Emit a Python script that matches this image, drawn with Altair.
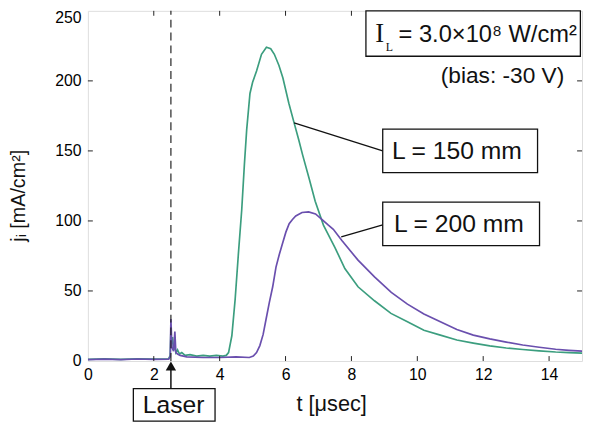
import altair as alt
import pandas as pd

# ---- data ----
t_150 = [0.0, 0.5, 1.0, 1.5, 2.0, 2.45, 2.5, 2.52, 2.54, 2.57, 2.6, 2.63, 2.67, 2.72, 2.78, 2.85,
         2.95, 3.1, 3.3, 3.5, 3.7, 3.9, 4.1, 4.2, 4.27, 4.37, 4.47, 4.57, 4.67, 4.75, 4.82, 4.92,
         5.0, 5.12, 5.27, 5.42, 5.55, 5.66, 5.8, 5.92, 6.1, 6.26, 6.4, 6.52, 6.72, 6.9, 7.15, 7.5,
         7.8, 8.2, 8.7, 9.2, 9.7, 10.2, 10.7, 11.2, 11.7, 12.2, 12.7, 13.2, 13.7, 14.2, 14.6, 15.0]
j_150 = [1.2, 1.5, 1.2, 1.6, 1.3, 1.5, 4, 22, 12, 17, 8, 11, 6, 8, 5, 6,
         4, 4.5, 3.5, 4, 3.5, 4, 3.5, 4, 6, 18, 44, 77, 108, 140, 165, 191,
         199, 207, 219, 224, 223, 219, 211, 202, 184, 170, 158, 147, 130, 114, 97, 81,
         66, 53, 43, 34, 28, 22, 18.5, 15, 12.8, 10.8, 9.3, 8.2, 7.2, 6.4, 6.0, 5.6]

t_200 = [0.0, 0.5, 1.0, 1.5, 2.0, 2.45, 2.5, 2.52, 2.55, 2.6, 2.64, 2.67, 2.72, 2.8, 3.0, 3.5,
         4.0, 4.5, 4.9, 5.02, 5.12, 5.22, 5.32, 5.41, 5.51, 5.61, 5.71, 5.81, 5.91, 6.01, 6.11,
         6.21, 6.31, 6.5, 6.7, 6.91, 7.11, 7.3, 7.45, 7.71, 8.2, 8.7, 9.21, 9.7, 10.2, 10.7, 11.2,
         11.7, 12.2, 12.7, 13.2, 13.7, 14.2, 14.6, 15.0]
j_200 = [1.0, 1.3, 1.0, 1.4, 1.2, 1.3, 3, 30, 10, 7, 21, 6, 5, 4, 3, 2.5,
         2.5, 3, 2.5, 3.5, 6, 11, 19, 30, 42, 53, 67, 76, 84, 92, 98,
         101, 103.5, 106, 106.5, 105, 101, 97, 94, 86, 72, 60, 49, 40.6, 33.6, 28, 22.5,
         18.5, 15.8, 13.5, 11.4, 9.8, 8.4, 7.6, 7.0]

series_names = ["L = 150 mm", "L = 200 mm"]
series_colors = ["#3c9e7f", "#6a4fae"]

x_ticks = [0, 2, 4, 6, 8, 10, 12, 14]
y_ticks = [0, 50, 100, 150, 200, 250]
laser_t = 2.52

FONT = "Liberation Sans"

df = pd.concat([
    pd.DataFrame({"t": t_150, "j": j_150, "s": series_names[0]}),
    pd.DataFrame({"t": t_200, "j": j_200, "s": series_names[1]}),
], ignore_index=True)

xs = alt.Scale(domain=[0, 15], nice=False, zero=False)
ys = alt.Scale(domain=[0, 250], nice=False, zero=False)

x_axis = alt.Axis(values=x_ticks, ticks=False, domain=False, grid=False,
                  labelFontSize=16, labelFont=FONT, labelColor="black",
                  labelPadding=6, labelFlush=False, title=None)
y_axis = alt.Axis(values=y_ticks, ticks=False, domain=False, grid=False,
                  labelFontSize=16, labelFont=FONT, labelColor="black",
                  labelPadding=7, labelFlush=False, title=None,
                  labelOffset=alt.ConditionalAxisNumber(
                      condition={"test": "datum.value == 250", "value": 7}, value=0))


def X(field="t"):
    return alt.X(f"{field}:Q", scale=xs, axis=x_axis)


def Y(field="j"):
    return alt.Y(f"{field}:Q", scale=ys, axis=y_axis)


lines = alt.Chart(df).mark_line(strokeWidth=1.7, clip=True).encode(
    x=X(), y=Y(),
    color=alt.Color("s:N", scale=alt.Scale(domain=series_names, range=series_colors), legend=None),
    order="t:Q",
)

# inward ticks
tick_df = pd.DataFrame(
    [{"t": v, "t2": v, "j": 0, "j2": 3.5} for v in x_ticks[1:]] +
    [{"t": v, "t2": v, "j": 250, "j2": 246.5} for v in x_ticks[1:]] +
    [{"t": 0, "t2": 0.15, "j": v, "j2": v} for v in y_ticks[1:-1]] +
    [{"t": 15, "t2": 14.85, "j": v, "j2": v} for v in y_ticks[1:-1]]
)
ticks = alt.Chart(tick_df).mark_rule(color="#222", strokeWidth=1).encode(
    x=X(), x2="t2:Q", y=Y(), y2="j2:Q")

# dashed laser line
dash = alt.Chart(pd.DataFrame({"t": [laser_t], "j": [0], "j2": [250]})).mark_rule(
    color="#222", strokeDash=[8, 5], strokeWidth=1.2).encode(x=X(), y=Y(), y2="j2:Q")

# connector lines
conn_df = pd.DataFrame({"t": [6.26, 7.69], "j": [170, 88.7], "t2": [8.95, 8.95], "j2": [150, 97.2]})
conn = alt.Chart(conn_df).mark_rule(color="#111", strokeWidth=1.3).encode(
    x=X(), y=Y(), x2="t2:Q", y2="j2:Q")

# boxes
box_df = pd.DataFrame({
    "t": [8.44, 8.95, 8.95, 1.38],
    "t2": [14.95, 13.65, 13.71, 3.86],
    "j": [250, 165.5, 113.4, -19.7],
    "j2": [217.6, 134.5, 82.4, -43.0],
})
boxes = alt.Chart(box_df).mark_rect(fill="white", stroke="#111", strokeWidth=1.3, clip=False).encode(
    x=X(), x2="t2:Q", y=Y(), y2="j2:Q")

# arrow
arrow_line = alt.Chart(pd.DataFrame({"t": [laser_t], "j": [-19.7], "j2": [-5]})).mark_rule(
    color="#111", strokeWidth=1.5, clip=False).encode(x=X(), y=Y(), y2="j2:Q")
arrow_head = alt.Chart(pd.DataFrame({"t": [laser_t], "j": [-3.6]})).mark_point(
    shape="triangle-up", filled=True, color="#111", size=110, opacity=1, clip=False).encode(
    x=X(), y=Y())


def text_layer(rows, **kw):
    return alt.Chart(pd.DataFrame(rows)).mark_text(clip=False, color="#111", **kw).encode(
        x=X(), y=Y(), text="txt:N")


txt_150 = text_layer([{"t": 11.2, "j": 150, "txt": "L = 150 mm"}], font=FONT, fontSize=25,
                     align="center", baseline="middle")
txt_200 = text_layer([{"t": 11.26, "j": 97.9, "txt": "L = 200 mm"}], font=FONT, fontSize=25,
                     align="center", baseline="middle")
txt_laser = text_layer([{"t": 2.6, "j": -31.3, "txt": "Laser"}], font=FONT, fontSize=25,
                       align="center", baseline="middle")
txt_I = text_layer([{"t": 8.86, "j": 227.5, "txt": "I"}], font="Liberation Serif", fontSize=27,
                   align="center", baseline="alphabetic")
txt_Lsub = text_layer([{"t": 9.15, "j": 221, "txt": "L"}], font="Liberation Serif", fontSize=12,
                      align="center", baseline="alphabetic")
txt_IL = text_layer([{"t": 9.43, "j": 227.5, "txt": "= 3.0×10⁸ W/cm²"}], font=FONT, fontSize=24,
                    align="left", baseline="alphabetic")
txt_bias = text_layer([{"t": 14.46, "j": 198.6, "txt": "(bias: -30 V)"}], font=FONT, fontSize=23,
                      align="right", baseline="alphabetic")
txt_xtitle = text_layer([{"t": 7.4, "j": -31, "txt": "t [μsec]"}], font=FONT, fontSize=22,
                        align="center", baseline="middle")
txt_ytitle = text_layer([{"t": -2.1, "j": 118, "txt": "jᵢ [mA/cm²]"}], font=FONT, fontSize=20,
                        align="center", baseline="middle", angle=270)

chart = alt.layer(
    lines, ticks, dash, conn, boxes, arrow_line, arrow_head,
    txt_150, txt_200, txt_laser, txt_I, txt_Lsub, txt_IL, txt_bias, txt_xtitle, txt_ytitle,
).properties(
    width=501, height=355,
    autosize=alt.AutoSizeParams(type="none"),
    padding={"left": 81, "top": 0, "right": 2, "bottom": 62},
).configure_view(stroke="#111", strokeWidth=1.3).configure(background="white")

chart.save("out.html", embed_options={"renderer": "svg", "actions": False})
